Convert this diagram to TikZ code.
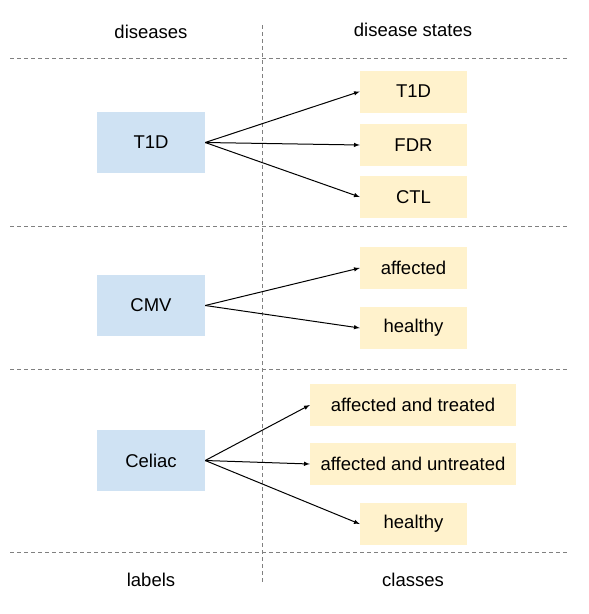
\documentclass[tikz,border=0pt]{standalone}
\usepackage{fontspec}
\setmainfont{Liberation Sans}
\definecolor{boxblue}{HTML}{CFE2F3}
\definecolor{boxyellow}{HTML}{FFF2CC}
\tikzset{
  disease/.style={fill=boxblue, minimum width=108pt, minimum height=61pt, inner sep=0pt},
  state/.style={fill=boxyellow, minimum width=107pt, minimum height=42pt, inner sep=0pt},
  widestate/.style={state, minimum width=206pt},
  sep/.style={gray, dashed, dash pattern=on 4pt off 3pt, line width=0.8pt},
  link/.style={-latex, line width=1pt}
}
\begin{document}
\begin{tikzpicture}[x=1pt,y=-1pt,font=\fontsize{18.5}{22}\selectfont]
\useasboundingbox (0,0) rectangle (589,614);

% Separators
\draw[sep] (262,25) -- (262,583);
\draw[sep] (10,58) -- (567,58);
\draw[sep] (10,226) -- (567,226);
\draw[sep] (10,369) -- (567,369);
\draw[sep] (10,552) -- (567,552);

% Headers
\node (hdis) at (151,32) {diseases};
\node (hstates) at (413,30) {disease states};
\node (flabels) at (151,580) {labels};
\node (fclasses) at (413,580) {classes};

% Diseases
\node[disease] (t1d) at (151,142.5) {T1D};
\node[disease] (cmv) at (151,305.5) {CMV};
\node[disease] (celiac) at (151,460.5) {Celiac};

% Disease states
\node[state] (st1d) at (413.5,91.5) {T1D};
\node[state] (fdr) at (413.5,145) {FDR};
\node[state] (ctl) at (413.5,197) {CTL};

\node[state] (aff) at (413.5,268) {affected};
\node[state] (hlth) at (413.5,328) {healthy};

\node[widestate] (afftr) at (413,405) {affected and treated};
\node[widestate] (affun) at (413,464) {affected and untreated};
\node[state] (hlthc) at (413.5,524) {healthy};

% Arrows
\draw[link] (t1d.east) -- (st1d.west);
\draw[link] (t1d.east) -- (fdr.west);
\draw[link] (t1d.east) -- (ctl.west);

\draw[link] (cmv.east) -- (aff.west);
\draw[link] (cmv.east) -- (hlth.west);

\draw[link] (celiac.east) -- (afftr.west);
\draw[link] (celiac.east) -- (affun.west);
\draw[link] (celiac.east) -- (hlthc.west);

\end{tikzpicture}
\end{document}
